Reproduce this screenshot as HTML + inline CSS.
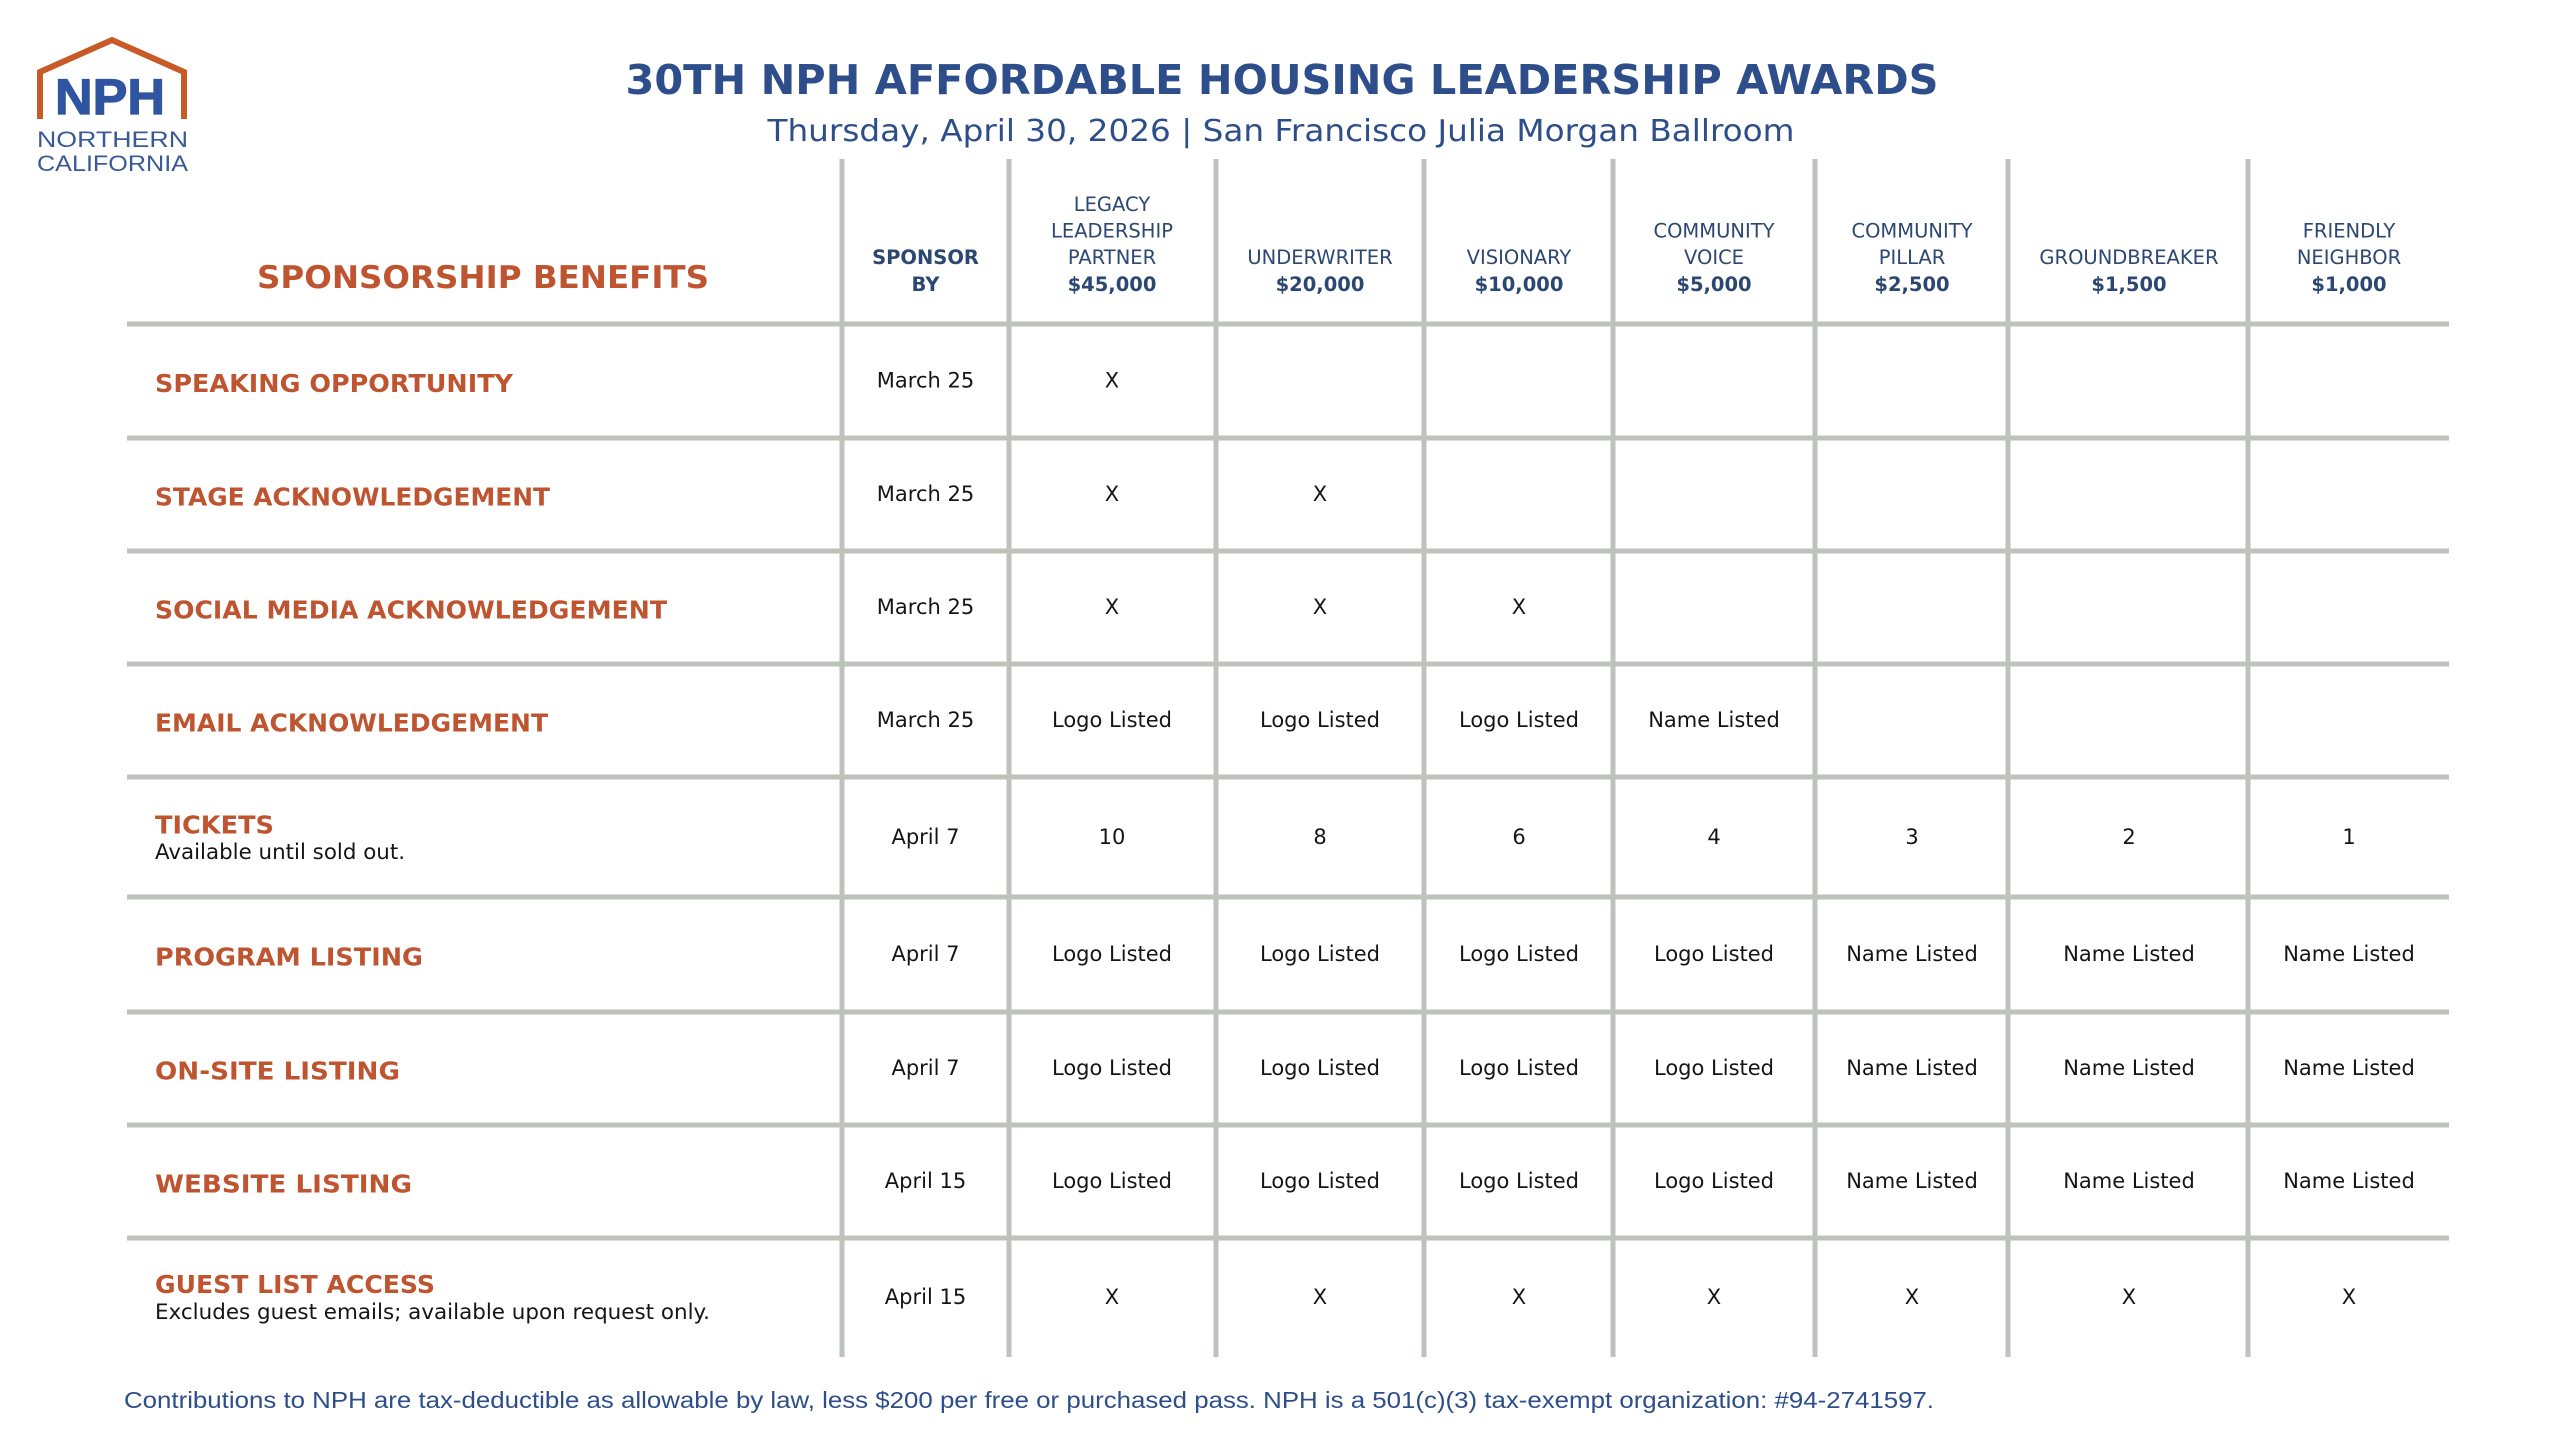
<!DOCTYPE html>
<html>
<head>
<meta charset="utf-8">
<style>
  html,body{margin:0;padding:0;background:#fff;}
  svg{display:block;}
  .hdr{font-family:"DejaVu Sans","Liberation Sans",sans-serif;font-size:19.5px;fill:#2C4772;}
  .hdrb{font-family:"DejaVu Sans","Liberation Sans",sans-serif;font-size:19.5px;font-weight:bold;fill:#2C4772;}
  .lbl{font-family:"DejaVu Sans","Liberation Sans",sans-serif;font-size:25px;font-weight:bold;fill:#BF5530;}
  .sub{font-family:"DejaVu Sans","Liberation Sans",sans-serif;font-size:21px;fill:#151515;}
  .d{font-family:"DejaVu Sans","Liberation Sans",sans-serif;font-size:21px;fill:#151515;text-anchor:middle;}
</style>
</head>
<body>
<svg width="2560" height="1440" viewBox="0 0 2560 1440" xmlns="http://www.w3.org/2000/svg">
  <rect width="2560" height="1440" fill="#ffffff"/>

  <!-- Logo -->
  <polyline points="40,119 40,72 112,40 184,72 184,119" fill="none" stroke="#C85A28" stroke-width="6" stroke-linejoin="miter"/>
  <text x="55" y="114" font-family="Liberation Sans, sans-serif" font-weight="bold" font-size="50" fill="#2F55A0" stroke="#2F55A0" stroke-width="1.2" textLength="110" lengthAdjust="spacingAndGlyphs">NPH</text>
  <text x="37" y="147" font-family="Liberation Sans, sans-serif" font-size="22.5" fill="#3A5A96" textLength="151" lengthAdjust="spacingAndGlyphs">NORTHERN</text>
  <text x="37" y="171" font-family="Liberation Sans, sans-serif" font-size="22.5" fill="#3A5A96" textLength="151" lengthAdjust="spacingAndGlyphs">CALIFORNIA</text>

  <!-- Title -->
  <text x="1282" y="94" text-anchor="middle" font-family="DejaVu Sans, Liberation Sans, sans-serif" font-weight="bold" font-size="41" fill="#2D4E8A" textLength="1313" lengthAdjust="spacingAndGlyphs">30TH NPH AFFORDABLE HOUSING LEADERSHIP AWARDS</text>
  <text x="1281" y="141" text-anchor="middle" font-family="DejaVu Sans, Liberation Sans, sans-serif" font-size="30.5" fill="#2D4E8A" textLength="1027" lengthAdjust="spacingAndGlyphs">Thursday, April 30, 2026 | San Francisco Julia Morgan Ballroom</text>

  <!-- Grid -->
  <g fill="#BDC2BB">
    <rect x="127" y="321.5" width="2322" height="5"/>
    <rect x="127" y="435.5" width="2322" height="5"/>
    <rect x="127" y="548.5" width="2322" height="5"/>
    <rect x="127" y="661.5" width="2322" height="5"/>
    <rect x="127" y="774.5" width="2322" height="5"/>
    <rect x="127" y="894.5" width="2322" height="5"/>
    <rect x="127" y="1009.5" width="2322" height="5"/>
    <rect x="127" y="1122.5" width="2322" height="5"/>
    <rect x="127" y="1235.5" width="2322" height="5"/>

    <rect x="839.5" y="159" width="5" height="1198"/>
    <rect x="1006.5" y="159" width="5" height="1198"/>
    <rect x="1213.5" y="159" width="5" height="1198"/>
    <rect x="1421.5" y="159" width="5" height="1198"/>
    <rect x="1610.5" y="159" width="5" height="1198"/>
    <rect x="1812.5" y="159" width="5" height="1198"/>
    <rect x="2005.5" y="159" width="5" height="1198"/>
    <rect x="2245.5" y="159" width="5" height="1198"/>
  </g>

  <!-- Header -->
  <text x="483" y="288" text-anchor="middle" font-family="DejaVu Sans, Liberation Sans, sans-serif" font-weight="bold" font-size="31" fill="#BF5530" textLength="452" lengthAdjust="spacingAndGlyphs">SPONSORSHIP BENEFITS</text>

  <g text-anchor="middle">
    <text class="hdrb" x="925.5" y="264">SPONSOR</text>
    <text class="hdrb" x="925.5" y="291">BY</text>

    <text class="hdr" x="1112" y="211">LEGACY</text>
    <text class="hdr" x="1112" y="237.5">LEADERSHIP</text>
    <text class="hdr" x="1112" y="264">PARTNER</text>
    <text class="hdrb" x="1112" y="291">$45,000</text>

    <text class="hdr" x="1320" y="264">UNDERWRITER</text>
    <text class="hdrb" x="1320" y="291">$20,000</text>

    <text class="hdr" x="1519" y="264">VISIONARY</text>
    <text class="hdrb" x="1519" y="291">$10,000</text>

    <text class="hdr" x="1714" y="237.5">COMMUNITY</text>
    <text class="hdr" x="1714" y="264">VOICE</text>
    <text class="hdrb" x="1714" y="291">$5,000</text>

    <text class="hdr" x="1912" y="237.5">COMMUNITY</text>
    <text class="hdr" x="1912" y="264">PILLAR</text>
    <text class="hdrb" x="1912" y="291">$2,500</text>

    <text class="hdr" x="2129" y="264">GROUNDBREAKER</text>
    <text class="hdrb" x="2129" y="291">$1,500</text>

    <text class="hdr" x="2349" y="237.5">FRIENDLY</text>
    <text class="hdr" x="2349" y="264">NEIGHBOR</text>
    <text class="hdrb" x="2349" y="291">$1,000</text>
  </g>

  <!-- Row labels -->
  <text class="lbl" x="155" y="392" textLength="358" lengthAdjust="spacingAndGlyphs">SPEAKING OPPORTUNITY</text>
  <text class="lbl" x="155" y="505.5" textLength="395" lengthAdjust="spacingAndGlyphs">STAGE ACKNOWLEDGEMENT</text>
  <text class="lbl" x="155" y="618.5" textLength="512" lengthAdjust="spacingAndGlyphs">SOCIAL MEDIA ACKNOWLEDGEMENT</text>
  <text class="lbl" x="155" y="731.5" textLength="393" lengthAdjust="spacingAndGlyphs">EMAIL ACKNOWLEDGEMENT</text>
  <text class="lbl" x="155" y="833.5" textLength="119" lengthAdjust="spacingAndGlyphs">TICKETS</text>
  <text class="sub" x="155" y="859" textLength="250" lengthAdjust="spacingAndGlyphs">Available until sold out.</text>
  <text class="lbl" x="155" y="965.5" textLength="268" lengthAdjust="spacingAndGlyphs">PROGRAM LISTING</text>
  <text class="lbl" x="155" y="1079.5" textLength="245" lengthAdjust="spacingAndGlyphs">ON-SITE LISTING</text>
  <text class="lbl" x="155" y="1192.5" textLength="257" lengthAdjust="spacingAndGlyphs">WEBSITE LISTING</text>
  <text class="lbl" x="155" y="1293" textLength="280" lengthAdjust="spacingAndGlyphs">GUEST LIST ACCESS</text>
  <text class="sub" x="155" y="1319" textLength="555" lengthAdjust="spacingAndGlyphs">Excludes guest emails; available upon request only.</text>

  <!-- Row 1 -->
  <text class="d" x="925.5" y="387.5">March 25</text>
  <text class="d" x="1112" y="387.5">X</text>

  <!-- Row 2 -->
  <text class="d" x="925.5" y="501">March 25</text>
  <text class="d" x="1112" y="501">X</text>
  <text class="d" x="1320" y="501">X</text>

  <!-- Row 3 -->
  <text class="d" x="925.5" y="614">March 25</text>
  <text class="d" x="1112" y="614">X</text>
  <text class="d" x="1320" y="614">X</text>
  <text class="d" x="1519" y="614">X</text>

  <!-- Row 4 -->
  <text class="d" x="925.5" y="727">March 25</text>
  <text class="d" x="1112" y="727">Logo Listed</text>
  <text class="d" x="1320" y="727">Logo Listed</text>
  <text class="d" x="1519" y="727">Logo Listed</text>
  <text class="d" x="1714" y="727">Name Listed</text>

  <!-- Row 5 -->
  <text class="d" x="925.5" y="844">April 7</text>
  <text class="d" x="1112" y="844">10</text>
  <text class="d" x="1320" y="844">8</text>
  <text class="d" x="1519" y="844">6</text>
  <text class="d" x="1714" y="844">4</text>
  <text class="d" x="1912" y="844">3</text>
  <text class="d" x="2129" y="844">2</text>
  <text class="d" x="2349" y="844">1</text>

  <!-- Row 6 -->
  <text class="d" x="925.5" y="961">April 7</text>
  <text class="d" x="1112" y="961">Logo Listed</text>
  <text class="d" x="1320" y="961">Logo Listed</text>
  <text class="d" x="1519" y="961">Logo Listed</text>
  <text class="d" x="1714" y="961">Logo Listed</text>
  <text class="d" x="1912" y="961">Name Listed</text>
  <text class="d" x="2129" y="961">Name Listed</text>
  <text class="d" x="2349" y="961">Name Listed</text>

  <!-- Row 7 -->
  <text class="d" x="925.5" y="1075">April 7</text>
  <text class="d" x="1112" y="1075">Logo Listed</text>
  <text class="d" x="1320" y="1075">Logo Listed</text>
  <text class="d" x="1519" y="1075">Logo Listed</text>
  <text class="d" x="1714" y="1075">Logo Listed</text>
  <text class="d" x="1912" y="1075">Name Listed</text>
  <text class="d" x="2129" y="1075">Name Listed</text>
  <text class="d" x="2349" y="1075">Name Listed</text>

  <!-- Row 8 -->
  <text class="d" x="925.5" y="1188">April 15</text>
  <text class="d" x="1112" y="1188">Logo Listed</text>
  <text class="d" x="1320" y="1188">Logo Listed</text>
  <text class="d" x="1519" y="1188">Logo Listed</text>
  <text class="d" x="1714" y="1188">Logo Listed</text>
  <text class="d" x="1912" y="1188">Name Listed</text>
  <text class="d" x="2129" y="1188">Name Listed</text>
  <text class="d" x="2349" y="1188">Name Listed</text>

  <!-- Row 9 -->
  <text class="d" x="925.5" y="1304">April 15</text>
  <text class="d" x="1112" y="1304">X</text>
  <text class="d" x="1320" y="1304">X</text>
  <text class="d" x="1519" y="1304">X</text>
  <text class="d" x="1714" y="1304">X</text>
  <text class="d" x="1912" y="1304">X</text>
  <text class="d" x="2129" y="1304">X</text>
  <text class="d" x="2349" y="1304">X</text>

  <!-- Footer -->
  <text x="124" y="1408" font-family="Liberation Sans, sans-serif" font-size="23.5" fill="#2D4E8A" textLength="1810" lengthAdjust="spacingAndGlyphs">Contributions to NPH are tax-deductible as allowable by law, less $200 per free or purchased pass. NPH is a 501(c)(3) tax-exempt organization: #94-2741597.</text>
</svg>
</body>
</html>
